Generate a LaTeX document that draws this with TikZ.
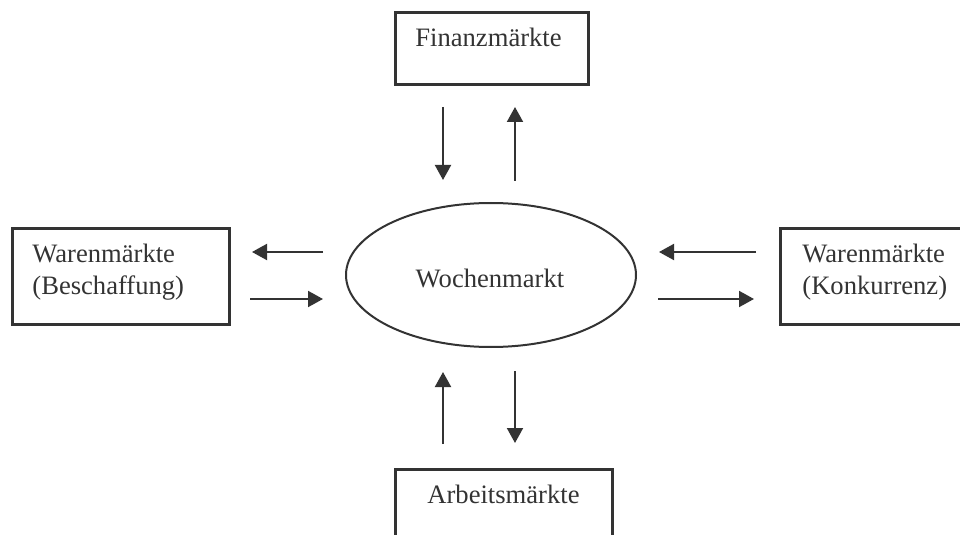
\documentclass[tikz,border=0pt]{standalone}
\usepackage{fontspec}
\setmainfont{Liberation Serif}
\usetikzlibrary{arrows.meta,shapes.geometric}
\definecolor{ink}{HTML}{333333}
\begin{document}
\begin{tikzpicture}[x=0.5pt,y=-0.5pt,
  box/.style={draw=ink,line width=1.3pt,rectangle,inner sep=0pt,anchor=north west},
  lbl/.style={text=ink,inner sep=0pt,font=\fontsize{13.3}{15}\selectfont,anchor=base west},
  flow/.style={draw=ink,line width=1pt,-{Triangle[length=7.5pt,width=8pt]}}]
\useasboundingbox (0,0) rectangle (960,535);
\clip (0,0) rectangle (960,535);

% market boxes
\node[box,minimum width=96.5pt,minimum height=36pt] (fin) at (394,11) {};
\node[lbl] (finT) at (415,47) {Finanzmärkte};

\node[box,minimum width=108.5pt,minimum height=48pt] (wb) at (11,227) {};
\node[lbl] (wbT1) at (32,263) {Warenmärkte};
\node[lbl] (wbT2) at (32,294) {(Beschaffung)};

\node[box,minimum width=108.5pt,minimum height=48pt] (wk) at (779,227) {};
\node[lbl] (wkT1) at (802,263) {Warenmärkte};
\node[lbl] (wkT2) at (802,294) {(Konkurrenz)};

\node[box,minimum width=108.5pt,minimum height=36pt] (arb) at (394,468) {};
\node[lbl] (arbT) at (427,503) {Arbeitsmärkte};

% central market
\node[draw=ink,ellipse,line width=1pt,minimum width=145pt,minimum height=72pt,inner sep=0pt] (wm) at (491,275) {};
\node[lbl,anchor=base] (wmT) at (490,287) {Wochenmarkt};

% flow arrow end points
\coordinate (a1s) at (443,107); \coordinate (a1e) at (443,180);
\coordinate (a2s) at (515,181); \coordinate (a2e) at (515,107);
\coordinate (b1s) at (323,252); \coordinate (b1e) at (252,252);
\coordinate (b2s) at (250,299); \coordinate (b2e) at (323,299);
\coordinate (c1s) at (756,252); \coordinate (c1e) at (659,252);
\coordinate (c2s) at (658,299); \coordinate (c2e) at (754,299);
\coordinate (d1s) at (443,444); \coordinate (d1e) at (443,372);
\coordinate (d2s) at (515,371); \coordinate (d2e) at (515,443);

\foreach \p in {a1,a2,b1,b2,c1,c2,d1,d2}
  \draw[flow] (\p s) -- (\p e);
\end{tikzpicture}
\end{document}
